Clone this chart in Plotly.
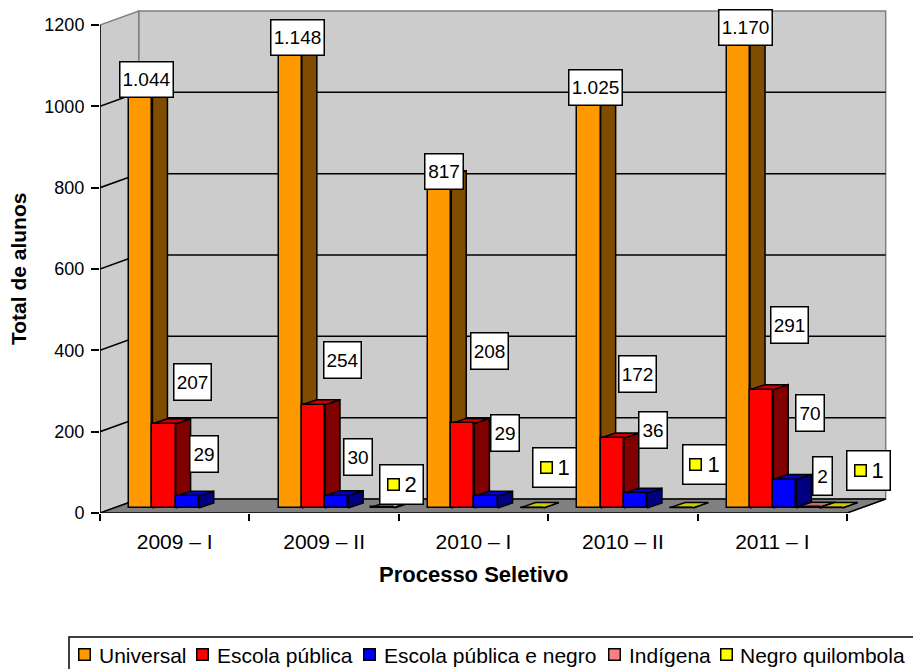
import plotly.graph_objects as go

# ---------- data ----------
categories = ["2009 – I", "2009 – II", "2010 – I", "2010 – II", "2011 – I"]
universal = [1044, 1148, 817, 1025, 1170]
escola_publica = [207, 254, 208, 172, 291]
escola_publica_negro = [29, 30, 29, 36, 70]
indigena = [None, None, None, None, 2]
negro_quilombola = [None, 2, 1, 1, 1]
y_ticks = [0, 200, 400, 600, 800, 1000, 1200]
value_labels_universal = ["1.044", "1.148", "817", "1.025", "1.170"]

series_names = ["Universal", "Escola pública", "Escola pública e negro", "Indígena", "Negro quilombola"]
series_values = [universal, escola_publica, escola_publica_negro, indigena, negro_quilombola]

# ---------- style ----------
FRONT = ["#FF9900", "#FF0000", "#0000FF", "#FF8080", "#FFFF00"]
SIDE = ["#804C00", "#800000", "#000080", "#804040", "#808000"]
TOP = ["#CC7A00", "#CC0000", "#0000CC", "#CC6666", "#CCCC00"]
FONT = "Liberation Sans"

W, H = 913, 669
ML, MR, MT, MB = 100, 23, 5, 156
PLOT_W, PLOT_H = W - ML - MR, H - MT - MB
PX_CAT = 149.4
PX_UNIT = 488 / 1200
X_MAX = PLOT_W / PX_CAT
Y_MAX = PLOT_H / PX_UNIT

def cx(px):
    return px / PX_CAT

def cy(px):
    return px / PX_UNIT

def paper_x(px):
    return (px - ML) / PLOT_W

def paper_y(py):
    return (H - MB - py) / PLOT_H

WALL_DX, WALL_DY = cx(38.7), cy(14)
BAR_W = 0.155
GROUP_START = 0.196
BAR_LIFT = cy(5)
DEPTH_DX, DEPTH_DY = cx(15), cy(5)
N_CAT = len(categories)

# label offsets in pixels from the front top centre of each bar: (xshift, yshift)
label_offsets = [
    [(5.6, 3.9), (7.2, 4.1), (4.3, 3.8), (6.9, 3.7), (7.0, 5.2)],
    [(28.5, 41.8), (28.6, 44.7), (26.7, 72.9), (25.3, 63.6), (27.4, 64.2)],
    [(17.3, 42.7), (21.4, 38.8), (19.0, 63.7), (18.1, 62.9), (25.2, 66.5)],
    [None, None, None, None, (14.5, 31.2)],
    [None, (19.1, 22.7), (22.7, 39.6), (22.8, 42.6), (37.9, 36.6)],
]
# legend layout in page pixels
legend_key_left = [78, 196, 363, 608, 720]
legend_text_left = [98, 216, 383, 628, 739]

fig = go.Figure()

def poly(xs, ys, fill=None, line="black", width=1.5):
    fig.add_trace(go.Scatter(
        x=xs, y=ys, mode="lines", line=dict(color=line, width=width),
        fill="toself" if fill else "none", fillcolor=fill,
        showlegend=False, hoverinfo="skip", cliponaxis=False,
    ))

top = y_ticks[-1]
GRAY = "#808080"
BACK_R = N_CAT + WALL_DX
# walls and floor
poly([WALL_DX, BACK_R, BACK_R, WALL_DX, WALL_DX],
     [WALL_DY, WALL_DY, top + WALL_DY, top + WALL_DY, WALL_DY], "#CCCCCC", GRAY)
poly([0, WALL_DX, WALL_DX, 0, 0], [0, WALL_DY, top + WALL_DY, top, 0], "#CCCCCC", GRAY)
poly([0, N_CAT, BACK_R, WALL_DX, 0], [0, 0, WALL_DY, WALL_DY, 0], GRAY, GRAY)
# gridlines on the walls
for t in y_ticks[:-1]:
    poly([0, WALL_DX, BACK_R], [t, t + WALL_DY, t + WALL_DY])
poly([N_CAT, BACK_R], [0, WALL_DY])
# axis lines
poly([0, 0], [0, top])
poly([0, N_CAT], [0, 0])

# side and top faces of the bars, computed from the values
for j, vals in enumerate(series_values):
    for i, v in enumerate(vals):
        if v is None:
            continue
        x0 = i + GROUP_START + j * BAR_W
        x1 = x0 + BAR_W
        y0 = BAR_LIFT
        y1 = BAR_LIFT + v
        poly([x1, x1 + DEPTH_DX, x1 + DEPTH_DX, x1, x1],
             [y0, y0 + DEPTH_DY, y1 + DEPTH_DY, y1, y0], SIDE[j])
        poly([x0, x1, x1 + DEPTH_DX, x0 + DEPTH_DX, x0],
             [y1, y1, y1 + DEPTH_DY, y1 + DEPTH_DY, y1], TOP[j])

# front faces: real bars on an overlaid pair of axes
for j, vals in enumerate(series_values):
    fig.add_trace(go.Bar(
        x=[i + GROUP_START + (j + 0.5) * BAR_W for i in range(N_CAT)],
        y=vals, base=BAR_LIFT, width=BAR_W, name=series_names[j],
        marker=dict(color=FRONT[j], line=dict(color="black", width=1.5)),
        xaxis="x2", yaxis="y2", showlegend=False,
    ))

# value labels
for j, vals in enumerate(series_values):
    for i, v in enumerate(vals):
        if v is None:
            continue
        dx, dy = label_offsets[j][i]
        ax = i + GROUP_START + (j + 0.5) * BAR_W
        ay = v + BAR_LIFT
        text = value_labels_universal[i] if j == 0 else str(v)
        size = 19
        if j == 0:
            bw = 52 if len(text) > 3 else 37
            bh = 34
        elif j == 1:
            bw, bh = 36, 35
        elif j == 2:
            bw, bh = 27, 35
        elif j == 3:
            bw, bh = 18, 37
        else:
            bw, bh = 42, 38
            size = 22
            text = "&nbsp;&nbsp;&nbsp;" + text
        fig.add_annotation(
            x=ax, y=ay, xref="x", yref="y", xshift=dx, yshift=dy,
            text=text, showarrow=False, xanchor="center", yanchor="middle",
            width=bw, height=bh, bgcolor="white", bordercolor="black",
            borderwidth=1.5, borderpad=0, font=dict(family=FONT, size=size, color="black"),
        )
        if j == 4:
            fig.add_annotation(
                x=ax, y=ay, xref="x", yref="y", xshift=dx - 8.5, yshift=dy,
                text="&nbsp;", showarrow=False, xanchor="center", yanchor="middle",
                width=10, height=10, bgcolor="#FFFF00", bordercolor="black",
                borderwidth=1.5, borderpad=0, font=dict(family=FONT, size=6),
            )

# axis titles
fig.add_annotation(x=N_CAT / 2, y=paper_y(574), xref="x", yref="paper", text="<b>Processo Seletivo</b>",
                   showarrow=False, xanchor="center", yanchor="middle",
                   font=dict(family=FONT, size=22, color="black"))
fig.add_annotation(x=paper_x(18), y=top / 2, xref="paper", yref="y", text="<b>Total de alunos</b>",
                   showarrow=False, textangle=-90, xanchor="center", yanchor="middle",
                   font=dict(family=FONT, size=21, color="black"))

# legend frame, runs off the page like the reference
fig.add_shape(type="rect", xref="paper", yref="paper",
              x0=paper_x(69), x1=paper_x(960), y0=paper_y(700), y1=paper_y(637),
              line=dict(color="black", width=1.5), fillcolor="white", layer="below")
# legend entries
for name, colour, kx, tx in zip(series_names, FRONT, legend_key_left, legend_text_left):
    fig.add_annotation(x=paper_x(kx + 6.5), y=paper_y(654), xref="paper", yref="paper",
                       text="&nbsp;", showarrow=False, xanchor="center", yanchor="middle",
                       width=10, height=10, bgcolor=colour, bordercolor="black",
                       borderwidth=1.5, borderpad=0, font=dict(family=FONT, size=6))
    fig.add_annotation(x=paper_x(tx), y=paper_y(655), xref="paper", yref="paper",
                       text=name, showarrow=False, xanchor="left", yanchor="middle",
                       borderpad=0, font=dict(family=FONT, size=21, color="black"))

fig.update_layout(
    width=W, height=H, autosize=False,
    margin=dict(l=ML, r=MR, t=MT, b=MB, autoexpand=False),
    paper_bgcolor="white", plot_bgcolor="rgba(0,0,0,0)",
    barmode="overlay", bargap=0,
    font=dict(family=FONT, color="black"),
    xaxis=dict(range=[0, X_MAX], tickmode="array",
               tickvals=[i + 0.5 for i in range(N_CAT)], ticktext=categories,
               ticks="", showgrid=False, zeroline=False, showline=False,
               tickfont=dict(family=FONT, size=21, color="black"), ticklabelstandoff=14,
               minor=dict(tickmode="array", tickvals=list(range(N_CAT + 1)), ticks="outside",
                          ticklen=7, tickwidth=1.5, tickcolor="black", showgrid=False),
               fixedrange=True),
    yaxis=dict(range=[0, Y_MAX], tickmode="array", tickvals=y_ticks,
               ticks="outside", ticklen=8, tickwidth=1.5, tickcolor="black",
               showgrid=False, zeroline=False, showline=False,
               tickfont=dict(family=FONT, size=18, color="black"), ticklabelstandoff=3,
               fixedrange=True),
    xaxis2=dict(range=[0, X_MAX], overlaying="x", visible=False, fixedrange=True),
    yaxis2=dict(range=[0, Y_MAX], overlaying="y", visible=False, fixedrange=True),
    showlegend=False,
)

fig.write_html("out.html", config={"displayModeBar": False},
               post_script="document.body.style.margin='0';")
